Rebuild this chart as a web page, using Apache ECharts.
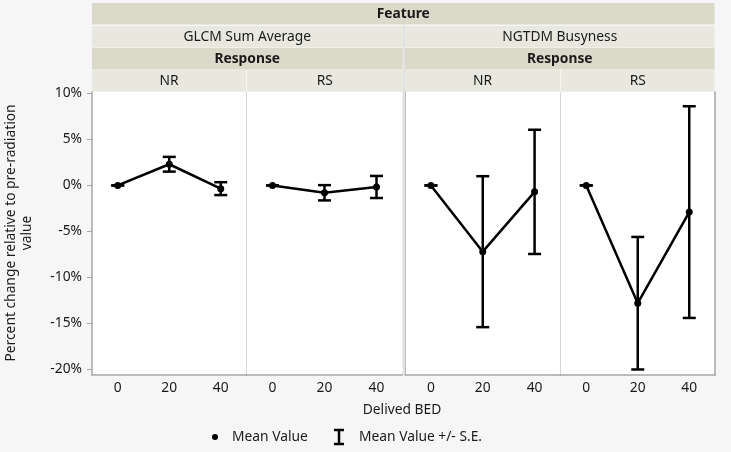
<!DOCTYPE html>
<html><head><meta charset="utf-8">
<script src="https://cdn.jsdelivr.net/npm/echarts@6/dist/echarts.min.js"></script>
<style>html,body{margin:0;padding:0;background:#f6f6f6}#c{width:731px;height:452px}</style>
</head><body><div id="c"></div>
<script>
// ---- data ----
const categories = ['0', '20', '40'];
const features = ['GLCM Sum Average', 'NGTDM Busyness'];
const responses = ['NR', 'RS'];
const yTicks = [-20, -15, -10, -5, 0, 5, 10];
const glcmNRMean = [0, 2.3, -0.35];
const glcmNRSE = [0, 0.8, 0.7];
const glcmRSMean = [0, -0.8, -0.17];
const glcmRSSE = [0, 0.83, 1.2];
const ngtdmNRMean = [0, -7.2, -0.7];
const ngtdmNRSE = [0, 8.2, 6.75];
const ngtdmRSMean = [0, -12.8, -2.9];
const ngtdmRSSE = [0, 7.2, 11.5];

const panels = [
  {mean: glcmNRMean, se: glcmNRSE},
  {mean: glcmRSMean, se: glcmRSSE},
  {mean: ngtdmNRMean, se: ngtdmNRSE},
  {mean: ngtdmRSMean, se: ngtdmRSSE}
];

const FONT = '"Noto Sans", sans-serif';
const TXT = '#1a1a1a';
const FS = 13.8;
const gridLeft = [92, 246.5, 405, 560.5];
const gridW = [154.5, 156, 155.5, 154.5];
const TOP = 92, H = 283;
const YMIN = -20.6, YMAX = 10.15;

const grids = [], xAxes = [], yAxes = [], series = [];
panels.forEach((p, i) => {
  grids.push({left: gridLeft[i], top: TOP, width: gridW[i], height: H, show: true,
    backgroundColor: '#ffffff', borderWidth: 0});
  xAxes.push({type: 'category', gridIndex: i, data: categories, boundaryGap: true,
    axisLine: {show: true, onZero: false, lineStyle: {color: '#a6a6a6', width: 1.5}},
    axisTick: {show: false},
    axisLabel: {color: TXT, fontFamily: FONT, fontSize: FS, margin: 6},
    splitLine: {show: false}});
  const ya = {type: 'value', gridIndex: i, min: YMIN, max: YMAX, splitLine: {show: false}};
  if (i === 0) {
    ya.axisLine = {show: true, onZero: false, lineStyle: {color: '#a6a6a6', width: 1.5}};
    ya.axisTick = {show: true, length: 5, customValues: yTicks, lineStyle: {color: '#a6a6a6'}};
    ya.axisLabel = {show: true, customValues: yTicks, formatter: v => v + '%', color: TXT,
      fontFamily: FONT, fontSize: FS, margin: 10};
  } else {
    ya.axisLine = {show: true, onZero: false, lineStyle: {color: i === 2 ? '#bdbdbd' : '#d6d6d6', width: 1}};
    ya.axisTick = {show: false};
    ya.axisLabel = {show: false};
  }
  yAxes.push(ya);
  series.push({
    type: 'custom', name: 'Mean Value +/- S.E.', xAxisIndex: i, yAxisIndex: i,
    data: categories.map((c, k) => [k, p.mean[k], p.se[k]]),
    encode: {x: 0, y: 1},
    renderItem: (params, api) => {
      const x = api.value(0), m = api.value(1), s = api.value(2);
      const t = api.coord([x, m + s]), b = api.coord([x, m - s]);
      const w = 6.5, st = {stroke: '#000', lineWidth: 2.5};
      return {type: 'group', children: [
        {type: 'line', shape: {x1: t[0], y1: t[1], x2: b[0], y2: b[1]}, style: st},
        {type: 'line', shape: {x1: t[0] - w, y1: t[1], x2: t[0] + w, y2: t[1]}, style: st},
        {type: 'line', shape: {x1: b[0] - w, y1: b[1], x2: b[0] + w, y2: b[1]}, style: st}
      ]};
    },
    z: 2
  });
  series.push({
    type: 'line', name: 'Mean Value', xAxisIndex: i, yAxisIndex: i, data: p.mean,
    symbol: 'circle', symbolSize: 7, showSymbol: true,
    lineStyle: {color: '#000', width: 2.5}, itemStyle: {color: '#000'}, z: 3,
    animation: false
  });
});
// right border of last panel
yAxes.push({type: 'value', gridIndex: 3, position: 'right', min: YMIN, max: YMAX,
  axisLine: {show: true, onZero: false, lineStyle: {color: '#a6a6a6', width: 1.5}},
  axisTick: {show: false}, axisLabel: {show: false}, splitLine: {show: false}});

// ---- header strips ----
const DARK = '#dbd9c9', LIGHT = '#e9e8de';
const rowY = [3, 26, 48, 70], rowH = 21.5;
const g = [];
// gap between feature groups (drawn first, below texts)
g.push({type: 'rect', shape: {x: 402.5, y: 25, width: 2.5, height: 350}, style: {fill: '#e2e2e2'}, silent: true, z: 0});
function cell(x1, x2, y, fill, text, bold) {
  g.push({type: 'rect', shape: {x: x1, y: y, width: x2 - x1, height: rowH}, style: {fill: fill}, silent: true});
  g.push({type: 'text', x: (x1 + x2) / 2, y: y + rowH / 2 + 0.5, silent: true, z: 10,
    style: {text: text, fill: TXT, font: (bold ? 'bold ' : '') + FS + 'px ' + FONT, align: 'center', verticalAlign: 'middle'}});
}
cell(92, 714.5, rowY[0], DARK, 'Feature', true);
const featX = [[92, 402.5], [405, 714.5]];
features.forEach((f, i) => {
  cell(featX[i][0], featX[i][1], rowY[1], LIGHT, f, false);
  cell(featX[i][0], featX[i][1], rowY[2], DARK, 'Response', true);
});
const respX = [[92, 246], [247, 402.5], [405, 560], [561, 714.5]];
respX.forEach((r, i) => cell(r[0], r[1], rowY[3], LIGHT, responses[i % 2], false));

// axis titles
g.push({type: 'text', x: 19, y: 233, rotation: Math.PI / 2, silent: true,
  style: {text: 'Percent change relative to pre-radiation\nvalue', fill: TXT, font: FS + 'px ' + FONT,
    align: 'center', verticalAlign: 'middle', lineHeight: 16}});
g.push({type: 'text', x: 402, y: 410, silent: true,
  style: {text: 'Delived BED', fill: TXT, font: FS + 'px ' + FONT, align: 'center', verticalAlign: 'middle'}});
// legend
g.push({type: 'circle', shape: {cx: 215, cy: 437, r: 3}, style: {fill: '#000'}, silent: true});
g.push({type: 'text', x: 232, y: 437, silent: true,
  style: {text: 'Mean Value', fill: TXT, font: FS + 'px ' + FONT, align: 'left', verticalAlign: 'middle'}});
const ib = {stroke: '#000', lineWidth: 2.5};
g.push({type: 'line', shape: {x1: 339, y1: 430, x2: 339, y2: 444}, style: ib, silent: true});
g.push({type: 'line', shape: {x1: 334, y1: 430, x2: 344, y2: 430}, style: ib, silent: true});
g.push({type: 'line', shape: {x1: 334, y1: 444, x2: 344, y2: 444}, style: ib, silent: true});
g.push({type: 'text', x: 359, y: 437, silent: true,
  style: {text: 'Mean Value +/- S.E.', fill: TXT, font: FS + 'px ' + FONT, align: 'left', verticalAlign: 'middle'}});

const chart = echarts.init(document.getElementById('c'));
chart.setOption({
  backgroundColor: '#f6f6f6',
  animation: false,
  grid: grids, xAxis: xAxes, yAxis: yAxes, series: series,
  graphic: {elements: g}
});
</script></body></html>
